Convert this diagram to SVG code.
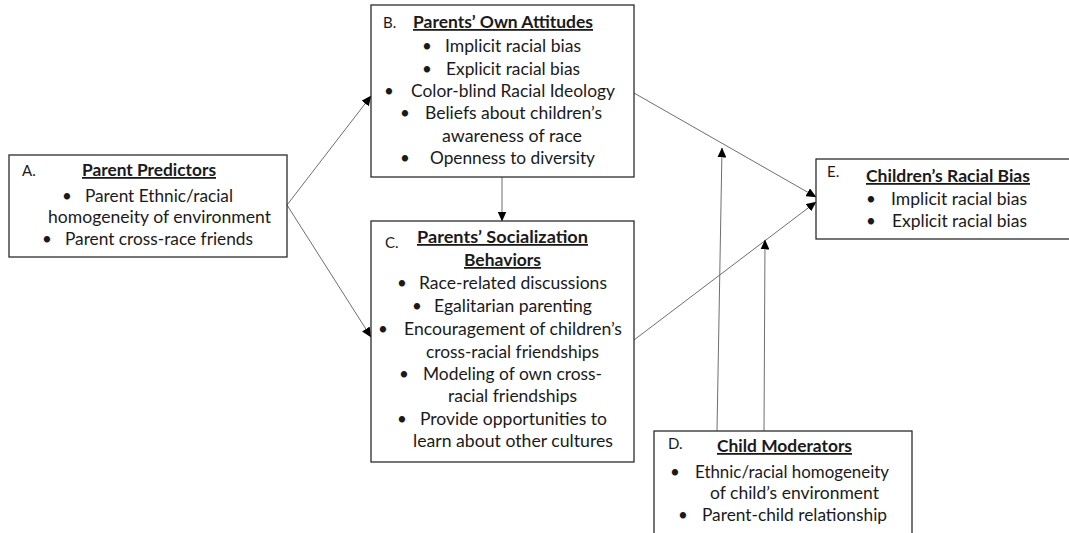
<svg xmlns="http://www.w3.org/2000/svg" width="1069" height="533" viewBox="0 0 1069 533">
  <style>
    .box { fill: #ffffff; stroke: #2b2b2b; stroke-width: 1.3; }
    .conn { stroke: #6e6e6e; stroke-width: 1; fill: none; marker-end: url(#arrow); }
    text { font-family: Lato, "Open Sans", "Liberation Sans", sans-serif; fill: #1a1a1a; font-size: 17.8px; }
    .lbl { font-size: 15px; }
    .ttl { font-weight: bold; text-decoration: underline; }
    .bul { text-anchor: middle; font-size: 17px; }
  </style>
  <defs>
    <marker id="arrow" markerUnits="userSpaceOnUse" markerWidth="10" markerHeight="9" refX="9.5" refY="4.5" orient="auto">
      <path d="M0,0 L10,4.5 L0,9 z" fill="#000000"/>
    </marker>
  </defs>

  <rect width="1069" height="533" fill="#ffffff"/>

  <!-- Connectors -->
  <g id="connectors">
    <line class="conn" x1="287" y1="205" x2="371" y2="96"/>
    <line class="conn" x1="287" y1="205" x2="371" y2="337"/>
    <line class="conn" x1="502" y1="177" x2="502" y2="221"/>
    <line class="conn" x1="634" y1="93" x2="816" y2="197"/>
    <line class="conn" x1="634" y1="340" x2="816" y2="202"/>
    <line class="conn" x1="717" y1="431" x2="722" y2="148"/>
    <line class="conn" x1="764" y1="431" x2="765" y2="240"/>
  </g>

  <!-- A. Parent Predictors -->
  <g id="node-a">
    <rect class="box" x="9" y="155" width="278" height="102"/>
    <text class="lbl" x="22" y="176">A.</text>
    <text class="ttl" x="82" y="176" textLength="134" lengthAdjust="spacingAndGlyphs">Parent Predictors</text>
    <text class="bul" x="67" y="202">•</text>
    <text x="85" y="202" textLength="148" lengthAdjust="spacingAndGlyphs">Parent Ethnic/racial</text>
    <text x="48" y="223" textLength="223" lengthAdjust="spacingAndGlyphs">homogeneity of environment</text>
    <text class="bul" x="47" y="245">•</text>
    <text x="65" y="245" textLength="188" lengthAdjust="spacingAndGlyphs">Parent cross-race friends</text>
  </g>

  <!-- B. Parents' Own Attitudes -->
  <g id="node-b">
    <rect class="box" x="371" y="5" width="263" height="172"/>
    <text class="lbl" x="383" y="28">B.</text>
    <text class="ttl" x="413" y="28" textLength="180" lengthAdjust="spacingAndGlyphs">Parents’ Own Attitudes</text>
    <text class="bul" x="427" y="52">•</text>
    <text x="445" y="52" textLength="136" lengthAdjust="spacingAndGlyphs">Implicit racial bias</text>
    <text class="bul" x="427" y="75">•</text>
    <text x="446" y="75" textLength="134" lengthAdjust="spacingAndGlyphs">Explicit racial bias</text>
    <text class="bul" x="389" y="97">•</text>
    <text x="411" y="97" textLength="204" lengthAdjust="spacingAndGlyphs">Color-blind Racial Ideology</text>
    <text class="bul" x="405" y="119">•</text>
    <text x="425" y="119" textLength="177" lengthAdjust="spacingAndGlyphs">Beliefs about children’s</text>
    <text x="442" y="142" textLength="140" lengthAdjust="spacingAndGlyphs">awareness of race</text>
    <text class="bul" x="405" y="164">•</text>
    <text x="430" y="164" textLength="165" lengthAdjust="spacingAndGlyphs">Openness to diversity</text>
  </g>

  <!-- C. Parents' Socialization Behaviors -->
  <g id="node-c">
    <rect class="box" x="371" y="221" width="263" height="241"/>
    <text class="lbl" x="385" y="248">C.</text>
    <text class="ttl" x="417" y="243" textLength="171" lengthAdjust="spacingAndGlyphs">Parents’  Socialization</text>
    <text class="ttl" x="464" y="266" textLength="77" lengthAdjust="spacingAndGlyphs">Behaviors</text>
    <text class="bul" x="402" y="289">•</text>
    <text x="419" y="289" textLength="188" lengthAdjust="spacingAndGlyphs">Race-related discussions</text>
    <text class="bul" x="417" y="312">•</text>
    <text x="434" y="312" textLength="158" lengthAdjust="spacingAndGlyphs">Egalitarian parenting</text>
    <text class="bul" x="383" y="335">•</text>
    <text x="404" y="335" textLength="218" lengthAdjust="spacingAndGlyphs">Encouragement of children’s</text>
    <text x="426" y="358" textLength="173" lengthAdjust="spacingAndGlyphs">cross-racial friendships</text>
    <text class="bul" x="404" y="380">•</text>
    <text x="423" y="380" textLength="179" lengthAdjust="spacingAndGlyphs">Modeling of own cross-</text>
    <text x="448" y="402" textLength="129" lengthAdjust="spacingAndGlyphs">racial friendships</text>
    <text class="bul" x="402" y="425">•</text>
    <text x="420" y="425" textLength="187" lengthAdjust="spacingAndGlyphs">Provide opportunities to</text>
    <text x="413" y="447" textLength="200" lengthAdjust="spacingAndGlyphs">learn about other cultures</text>
  </g>

  <!-- D. Child Moderators -->
  <g id="node-d">
    <rect class="box" x="654" y="431" width="258" height="120"/>
    <text class="lbl" x="668" y="449">D.</text>
    <text class="ttl" x="717" y="452" textLength="135" lengthAdjust="spacingAndGlyphs">Child Moderators</text>
    <text class="bul" x="675" y="478">•</text>
    <text x="695" y="478" textLength="194" lengthAdjust="spacingAndGlyphs">Ethnic/racial homogeneity</text>
    <text x="710" y="499" textLength="169" lengthAdjust="spacingAndGlyphs">of child’s environment</text>
    <text class="bul" x="683" y="521">•</text>
    <text x="702" y="521" textLength="185" lengthAdjust="spacingAndGlyphs">Parent-child relationship</text>
  </g>

  <!-- E. Children's Racial Bias -->
  <g id="node-e">
    <rect class="box" x="816" y="159" width="262" height="80"/>
    <text class="lbl" x="827" y="177">E.</text>
    <text class="ttl" x="866" y="182" textLength="164" lengthAdjust="spacingAndGlyphs">Children’s Racial Bias</text>
    <text class="bul" x="871" y="205">•</text>
    <text x="891" y="205" textLength="136" lengthAdjust="spacingAndGlyphs">Implicit racial bias</text>
    <text class="bul" x="871" y="227">•</text>
    <text x="892" y="227" textLength="135" lengthAdjust="spacingAndGlyphs">Explicit racial bias</text>
  </g>
</svg>
